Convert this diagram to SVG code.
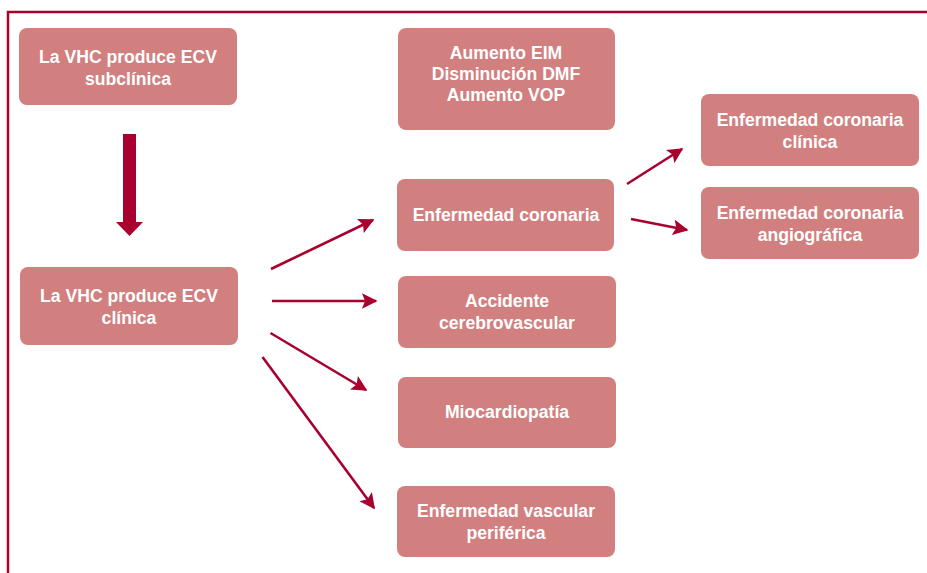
<svg xmlns="http://www.w3.org/2000/svg" width="927" height="573" viewBox="0 0 927 573">
<style>
.box{fill:#D27F7F}
.t{font-family:"Liberation Sans",Arial,sans-serif;font-weight:bold;font-size:17.6px;fill:#fff;text-anchor:middle}
.c{stroke:#A8002F;stroke-width:2.6;fill:none;marker-end:url(#ah)}
</style>
<defs>
<marker id="ah" viewBox="0 0 10 10" refX="9" refY="5" markerWidth="6.5" markerHeight="6" orient="auto" markerUnits="strokeWidth">
<path d="M0,0 L10,5 L0,10 L2,5 z" fill="#A8002F"/>
</marker>
</defs>
<rect width="927" height="573" fill="#fff"/>
<path d="M8,573 V12 H927" fill="none" stroke="#A8002F" stroke-width="2.5"/>
<g id="n1"><rect class="box" x="19" y="28" width="218" height="77" rx="8"/><text class="t" x="128" y="63">La VHC produce ECV</text><text class="t" x="128" y="85">subclínica</text></g>
<g id="n2"><rect class="box" x="398" y="28" width="217" height="102" rx="8"/><text class="t" x="506" y="59">Aumento EIM</text><text class="t" x="506" y="80">Disminución DMF</text><text class="t" x="506" y="101">Aumento VOP</text></g>
<g id="n3"><rect class="box" x="701" y="94" width="218" height="72" rx="8"/><text class="t" x="810" y="126">Enfermedad coronaria</text><text class="t" x="810" y="148">clínica</text></g>
<g id="n4"><rect class="box" x="701" y="187" width="218" height="72" rx="8"/><text class="t" x="810" y="219">Enfermedad coronaria</text><text class="t" x="810" y="241">angiográfica</text></g>
<g id="n5"><rect class="box" x="397" y="179" width="217" height="72" rx="8"/><text class="t" x="506" y="221">Enfermedad coronaria</text></g>
<g id="n6"><rect class="box" x="20" y="267" width="218" height="78" rx="8"/><text class="t" x="129" y="302">La VHC produce ECV</text><text class="t" x="129" y="324">clínica</text></g>
<g id="n7"><rect class="box" x="398" y="276" width="218" height="72" rx="8"/><text class="t" x="507" y="307">Accidente</text><text class="t" x="507" y="329">cerebrovascular</text></g>
<g id="n8"><rect class="box" x="398" y="377" width="218" height="71" rx="8"/><text class="t" x="507" y="418">Miocardiopatía</text></g>
<g id="n9"><rect class="box" x="397" y="486" width="218" height="71" rx="8"/><text class="t" x="506" y="517">Enfermedad vascular</text><text class="t" x="506" y="539">periférica</text></g>
<g id="connectors">
<path d="M123,134 H136 V222 H143 L129.5,236 L116,222 H123 Z" fill="#A8002F"/>
<path class="c" d="M271,269 L373,220"/>
<path class="c" d="M272,301 L376,301"/>
<path class="c" d="M270.5,333 L366,390"/>
<path class="c" d="M262.5,357 L374,508"/>
<path class="c" d="M627,184 L682,149"/>
<path class="c" d="M631,219 L687,230"/>
</g>
</svg>
